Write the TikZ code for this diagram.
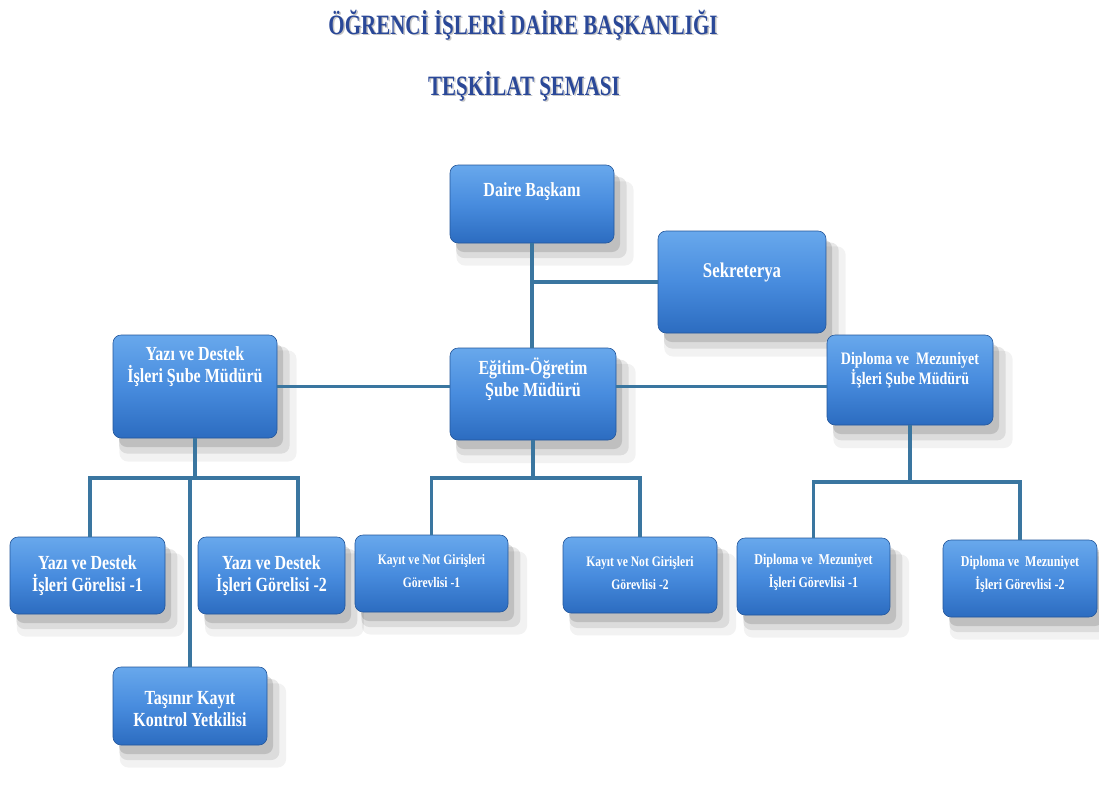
\documentclass[tikz,border=0pt]{standalone}
\usepackage{fontspec}
\usetikzlibrary{shadows}
\newfontfamily\boxfont[FakeStretch=0.8]{Liberation Serif}
\newfontfamily\titlefont[FakeStretch=0.75]{Liberation Serif}
\definecolor{boxtop}{RGB}{104,168,236}
\definecolor{boxmid}{RGB}{72,140,222}
\definecolor{boxbot}{RGB}{44,108,192}
\definecolor{conncol}{RGB}{58,118,160}
\definecolor{titlecol}{RGB}{42,72,152}
\tikzset{
  orgbox/.style={rounded corners=8pt, draw=boxbot!80!black, line width=0.6pt,
    top color=boxtop, bottom color=boxbot, middle color=boxmid,
    general shadow={fill=black, opacity=0.05, shadow xshift=12pt, shadow yshift=-18pt, shadow scale=1.08},
    general shadow={fill=black, opacity=0.09, shadow xshift=9pt, shadow yshift=-13pt, shadow scale=1.04},
    general shadow={fill=black, opacity=0.13, shadow xshift=6pt, shadow yshift=-9pt}},
  btxt/.style={text=white, align=center, inner sep=0pt},
  conn/.style={draw=conncol, line width=3.6pt, line join=miter},
  ttl/.style={text=titlecol, inner sep=0pt, anchor=base, font=\titlefont\bfseries\fontsize{28}{32}\selectfont},
  ttlsh/.style={text=gray, opacity=0.45, inner sep=0pt, anchor=base, font=\titlefont\bfseries\fontsize{28}{32}\selectfont}
}
\newcommand\fA{\boxfont\bfseries\fontsize{20}{22}\selectfont}
\newcommand\fB{\boxfont\bfseries\fontsize{17.5}{18}\selectfont}
\newcommand\fC{\boxfont\bfseries\fontsize{14.5}{23}\selectfont}
\newcommand\fD{\boxfont\bfseries\fontsize{15}{23}\selectfont}
\begin{document}
\begin{tikzpicture}[x=1pt,y=-1pt]
\useasboundingbox[fill=white] (0,0) rectangle (1099,785);

% title
\node[ttlsh] (t1s) at (524.5,35.5) {ÖĞRENCİ İŞLERİ DAİRE BAŞKANLIĞI};
\node[ttl] (t1) at (523,34) {ÖĞRENCİ İŞLERİ DAİRE BAŞKANLIĞI};
\node[ttlsh] (t2s) at (525.5,96.5) {TEŞKİLAT ŞEMASI};
\node[ttl] (t2) at (524,95) {TEŞKİLAT ŞEMASI};

% boxes
\node[orgbox, minimum width=164pt, minimum height=78pt] (dbas) at (532,204) {};
\node[btxt, font=\fA] (dbast) at ([yshift=12pt]dbas.center) {Daire Başkanı};

\node[orgbox, minimum width=168pt, minimum height=102pt] (sek) at (742,282) {};
\node[btxt, font=\fA\fontsize{21}{22}\selectfont] (sekt) at ([yshift=10pt]sek.center) {Sekreterya};

\node[orgbox, minimum width=164pt, minimum height=103pt] (yds) at (195,386.5) {};
\node[btxt, font=\fA] (ydst) at ([yshift=20pt]yds.center) {Yazı ve Destek\\İşleri Şube Müdürü};

\node[orgbox, minimum width=166pt, minimum height=92pt] (egt) at (533,394) {};
\node[btxt, font=\fA] (egtt) at ([yshift=15pt]egt.center) {Eğitim-Öğretim\\Şube Müdürü};

\node[orgbox, minimum width=166pt, minimum height=90pt] (dip) at (910,380) {};
\node[btxt, font=\fB] (dipt) at ([yshift=10pt]dip.center) {Diploma ve \ Mezuniyet\\İşleri Şube Müdürü};

\node[orgbox, minimum width=155pt, minimum height=77pt] (yg1) at (87.5,575.5) {};
\node[btxt, font=\fA] (yg1t) at (yg1.center) {Yazı ve Destek\\İşleri Görelisi -1};

\node[orgbox, minimum width=147pt, minimum height=77pt] (yg2) at (271.5,575.5) {};
\node[btxt, font=\fA] (yg2t) at (yg2.center) {Yazı ve Destek\\İşleri Görelisi -2};

\node[orgbox, minimum width=154pt, minimum height=78pt] (tas) at (190,706) {};
\node[btxt, font=\fA] (tast) at ([yshift=-3pt]tas.center) {Taşınır Kayıt\\Kontrol Yetkilisi};

\node[orgbox, minimum width=153pt, minimum height=77pt] (k1) at (431.5,573.5) {};
\node[btxt, font=\fC] (k1t) at ([yshift=2pt]k1.center) {Kayıt ve Not Girişleri\\Görevlisi -1};

\node[orgbox, minimum width=154pt, minimum height=76pt] (k2) at (640,575) {};
\node[btxt, font=\fC] (k2t) at ([yshift=2pt]k2.center) {Kayıt ve Not Girişleri\\Görevlisi -2};

\node[orgbox, minimum width=153pt, minimum height=77pt] (dg1) at (813.5,576.5) {};
\node[btxt, font=\fD] (dg1t) at ([yshift=4pt]dg1.center) {Diploma ve \ Mezuniyet\\İşleri Görevlisi -1};

\node[orgbox, minimum width=154pt, minimum height=77pt] (dg2) at (1020,578.5) {};
\node[btxt, font=\fD] (dg2t) at ([yshift=4pt]dg2.center) {Diploma ve \ Mezuniyet\\İşleri Görevlisi -2};

% connectors
\draw[conn] (dbas.south) -- (dbas.south |- egt.north);
\draw[conn] (dbas.south |- sek.west) -- (sek.west);
\draw[conn] (yds.east) -- (egt.west |- yds.east);
\draw[conn] (egt.east |- yds.east) -- (dip.west |- yds.east);

\coordinate (yb1) at (90,478);
\coordinate (yb2) at (298,478);
\coordinate (ybm) at (190,478);
\draw[conn] (yds.south) -- (yds.south |- yb1);
\draw[conn] (yb1 |- yg1.north) -- (yb1) -- (yb2) -- (yb2 |- yg2.north);
\draw[conn] (ybm) -- (tas.north);

\coordinate (eb) at (533,478);
\draw[conn] (egt.south) -- (eb);
\draw[conn] (k1.north) -- (k1.north |- eb) -- (k2.north |- eb) -- (k2.north);

\coordinate (db) at (910,482);
\draw[conn] (dip.south) -- (db);
\draw[conn] (dg1.north) -- (dg1.north |- db) -- (dg2.north |- db) -- (dg2.north);
\end{tikzpicture}
\end{document}
